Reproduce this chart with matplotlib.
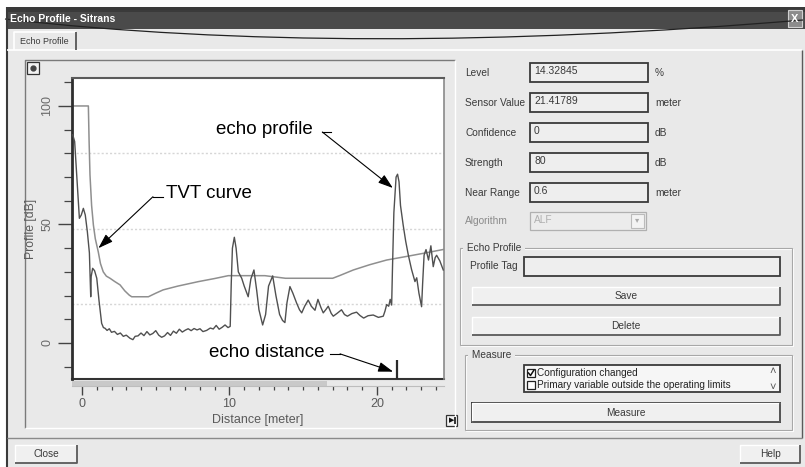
import numpy as np
import matplotlib
matplotlib.use('Agg')
import matplotlib.pyplot as plt
from matplotlib.patches import Rectangle, PathPatch
from matplotlib.path import Path

plt.rcParams['font.family'] = ['Liberation Sans', 'DejaVu Sans']

W, H = 805, 467
BG = '#e9e9e9'

# echo profile, distance [m] / level [dB]
echo_dist = [-0.63, -0.5, -0.35, -0.18, -0.05, 0.09, 0.22, 0.36, 0.5, 0.59, 0.62, 0.72, 0.85,
             1.0, 1.15, 1.33, 1.45, 1.56, 1.7, 1.85, 2.0, 2.2, 2.4, 2.6, 2.8, 3.0, 3.25, 3.45,
             3.6, 3.8, 4.0, 4.2, 4.4, 4.6, 4.8, 5.0, 5.2, 5.4, 5.6, 5.8, 6.0, 6.2, 6.4, 6.6,
             6.8, 7.0, 7.2, 7.4, 7.6, 7.8, 8.0, 8.2, 8.45, 8.7, 8.9, 9.1, 9.3, 9.5, 9.7, 9.9,
             10.05, 10.12, 10.2, 10.33, 10.45, 10.6, 10.83, 11.0, 11.27, 11.45, 11.66, 11.85,
             12.0, 12.25, 12.45, 12.65, 12.93, 13.15, 13.4, 13.6, 13.76, 13.9, 14.1, 14.3,
             14.55, 14.75, 14.9, 15.1, 15.34, 15.55, 15.8, 16.0, 16.2, 16.36, 16.55, 16.7,
             16.9, 17.04, 17.3, 17.6, 17.8, 18.0, 18.3, 18.62, 18.85, 19.1, 19.4, 19.75, 20.1,
             20.43, 20.55, 20.66, 20.8, 20.9, 21.0, 21.05, 21.15, 21.3, 21.4, 21.5, 21.6,
             21.78, 21.95, 22.13, 22.35, 22.58, 22.7, 22.85, 23.03, 23.1, 23.2, 23.33, 23.5,
             23.66, 23.82, 23.95, 24.05, 24.27, 24.5]
echo_db = [87.8, 85, 70, 52.6, 54, 56.8, 54, 47, 38, 19.5, 28, 31.5, 30.5,
           27.3, 18, 8.3, 6.5, 6.2, 5.3, 6.0, 4.5, 4.9, 3.6, 4.2, 2.8, 3.3, 2.0, 1.4,
           2.8, 3.0, 4.2, 3.1, 4.8, 3.4, 4.0, 5.2, 3.3, 2.4, 3.0, 4.4, 3.2, 5.0, 4.1, 5.8,
           4.6, 5.4, 6.0, 5.2, 6.1, 5.5, 6.0, 4.8, 5.3, 6.3, 5.9, 7.4, 5.8, 6.6, 7.6, 6.5,
           7.0, 25, 40, 44.6, 40, 30, 27.3, 24, 19.5, 27, 30.8, 22,
           14, 7.6, 12, 24, 28.3, 20, 12, 9.5, 8.6, 17, 23.8, 21,
           16.9, 14.0, 12.7, 15.5, 18.1, 15.5, 13.8, 18.4, 15, 12.7, 14.2, 15.5,
           12.5, 11.3, 12.5, 14.0, 12.0, 11.3, 12.4, 13.0, 11.6, 10.5, 11.5, 11.8, 10.8,
           11.3, 13.5, 16.2, 15.5, 18.4, 16, 30, 55, 70, 71.2, 68, 58,
           49.8, 43, 37.1, 31, 25.9, 27.5, 21, 15.3, 25, 37.1, 39.4, 35,
           41, 32.2, 36, 37, 34.6, 30.8]

# TVT curve
tvt_dist = [-0.68, 0.43, 0.48, 0.54, 0.65, 0.77, 0.9, 1.1, 1.25, 1.44, 1.65, 1.9, 2.2, 2.58,
            2.9, 3.2, 3.37, 4.5, 5.0, 5.5, 6.5, 7.9, 9.0, 9.92, 12.4, 13.8, 17.0, 17.5, 18.4,
            19.5, 20.66, 22.0, 23.3, 24.55]
tvt_db = [100, 100, 85, 70.9, 58, 49.8, 44, 38.5, 33.5, 30, 28.2, 27.3, 26, 24.5,
          22, 20.2, 19.5, 19.5, 21, 22.4, 24, 25.9, 27.2, 28.4, 28.4, 27.3, 27.3, 28.5, 30.8,
          33, 35, 36.5, 38, 39.5]

grid_db = [80, 48, 16.5]
echo_distance = 21.33
x_major = [0, 10, 20]
y_major = [0, 50, 100]

fields = ['Level', 'Sensor Value', 'Confidence', 'Strength', 'Near Range']
field_values = ['14.32845', '21.41789', '0', '80', '0.6']
field_units = ['%', 'meter', 'dB', 'dB', 'meter']
measure_items = ['Configuration changed', 'Primary variable outside the operating limits']
measure_checked = [True, False]

fig = plt.figure(figsize=(W / 100, H / 100), dpi=100, facecolor='white')
ui = fig.add_axes([0, 0, 1, 1])
ui.set_xlim(0, W)
ui.set_ylim(H, 0)
ui.axis('off')


def rect(x, y, w, h, **kw):
    ui.add_patch(Rectangle((x, y), w, h, **kw))


def line(xs, ys, **kw):
    ui.plot(xs, ys, solid_capstyle='butt', **kw)


def label(x, y, s, **kw):
    kw.setdefault('fontsize', 7.3)
    kw.setdefault('color', '#3a3a3a')
    kw.setdefault('va', 'center')
    ui.text(x, y, s, **kw)


def sunken(x, y, w, h, face='#eeeeee', edge='#3a3a3a'):
    rect(x, y, w, h, facecolor=face, edgecolor=edge, lw=1.3)


def button(x, y, w, h, text, default=False):
    rect(x, y, w, h, facecolor='#f0f0f0', edgecolor='#2e2e2e' if default else 'none',
         lw=1.4 if default else 0)
    line([x, x, x + w], [y + h, y, y], color='white', lw=1)
    line([x, x + w, x + w], [y + h, y + h, y], color='#5a5a5a', lw=1.3)
    label(x + w / 2, y + h / 2, text, ha='center')


def group(x, y, w, h, title):
    rect(x + 1, y + 1, w, h, fill=False, edgecolor='white', lw=0.8)
    rect(x, y, w, h, fill=False, edgecolor='#a8a8a8', lw=0.8)
    label(x + 4, y, ' ' + title + ' ', bbox=dict(fc=BG, ec='none', pad=0.5))


# window + title bar
rect(7, 7, W - 7, H - 7, facecolor=BG, edgecolor='none')
rect(7, 7, W - 7, 22, facecolor='#4a4a4a', edgecolor='none')
rect(7, 7, W - 7, 5, facecolor='#3a3a3a', edgecolor='none')
ui.text(10, 18.5, 'Echo Profile - Sitrans', color='white', fontsize=7.5,
        fontweight='bold', va='center')
rect(788, 10, 14, 17, facecolor='#8c8c8c', edgecolor='#d0d0d0', lw=0.8)
ui.text(795, 18.5, 'X', color='white', fontsize=8, ha='center', va='center', fontweight='bold')
fold = Path([(5, 19), (350, 58), (803, 20)], [Path.MOVETO, Path.CURVE3, Path.CURVE3])
ui.add_patch(PathPatch(fold, fill=False, edgecolor='#222222', lw=0.9))
line([7, 7], [7, H], color='#3a3a3a', lw=1.5)

# tab
line([7, 802], [50, 50], color='white', lw=1.2)
line([802, 802], [50, 438], color='#5a5a5a', lw=1)
line([7, 802], [438, 438], color='#8a8a8a', lw=1)
line([14, 14, 76], [50, 32, 32], color='white', lw=1.2)
line([76, 76], [32, 50], color='#4a4a4a', lw=1.2)
rect(14.5, 32.5, 61, 17.5, facecolor=BG, edgecolor='none')
label(20, 41, 'Echo Profile', fontsize=6.5)

# chart group
line([25, 25, 455], [428, 60, 60], color='#7a7a7a', lw=1)
line([25, 455, 455], [428, 428, 60], color='white', lw=1)
rect(27, 62, 12, 12, facecolor='#f2f2f2', edgecolor='#333333', lw=0.9)
ui.plot(33, 68, 'o', ms=3.5, color='#444444')
rect(72, 380.5, 255, 5, facecolor='#c9c9c9', edgecolor='none')
rect(446, 415, 11, 11, facecolor='#f2f2f2', edgecolor='#333333', lw=0.9)
ui.text(451.5, 420.5, '\u25b6', fontsize=5, ha='center', va='center', color='#111111')
line([454.5, 454.5], [417, 424], color='#111111', lw=1.2)

# right panel: readouts
for i, (name, val, unit) in enumerate(zip(fields, field_values, field_units)):
    top = 63 + 30 * i
    label(465, top + 9.5, name)
    sunken(530, top, 118, 19)
    label(534, top + 8, val, fontsize=7.5)
    label(655, top + 9.5, unit)

label(465, 221, 'Algorithm', color='#8a8a8a')
rect(530, 212, 116, 18, facecolor='#ececec', edgecolor='#b0b0b0', lw=0.9)
label(534, 220, 'ALF', color='#b0b0b0')
rect(631, 214, 13, 14, facecolor='#f3f3f3', edgecolor='#bbbbbb', lw=0.8)
ui.text(637.5, 221, '\u25be', fontsize=6, ha='center', va='center', color='#aaaaaa')

group(460, 248, 332, 97, 'Echo Profile')
label(470, 266, 'Profile Tag')
sunken(524, 257, 256, 19)
button(472, 287, 308, 18, 'Save')
button(472, 317, 308, 18, 'Delete')

group(465, 355, 327, 75, 'Measure')
sunken(524, 365, 256, 27, face='#f6f6f6')
for i, (item, chk) in enumerate(zip(measure_items, measure_checked)):
    yc = 373 + 12 * i
    rect(527, yc - 4, 8, 8, facecolor='white', edgecolor='#222222', lw=0.9)
    if chk:
        ui.plot([528.5, 530.5, 534], [yc, yc + 2.5, yc - 3], color='#111111', lw=1.1)
    label(537, yc, item, color='#222222', fontsize=7.2)
label(773, 371, '\u02c4', ha='center', color='#555555', fontsize=8)
label(773, 387, '\u02c5', ha='center', color='#555555', fontsize=8)
button(472, 403, 308, 19, 'Measure', default=True)

button(15, 445, 62, 18, 'Close')
button(740, 445, 60, 18, 'Help')

# echo profile chart
ax = fig.add_axes([72 / W, 1 - 379 / H, 372 / W, 301 / H])
ax.set_facecolor('white')
for g in grid_db:
    ax.axhline(g, color='#d6d6d6', lw=1, ls=(0, (1.5, 1.5)), zorder=1)
ax.plot(tvt_dist, tvt_db, color='#8f8f8f', lw=1.1, zorder=2)
ax.plot(echo_dist, echo_db, color='#505050', lw=1.0, zorder=3)
ax.vlines(echo_distance, -15.2, -7.2, color='#2a2a2a', lw=1.6, zorder=3)
ax.set_xlim(-0.68, 24.55)
ax.set_ylim(-15.2, 111.8)

ax.spines['top'].set_color('#5a5a5a')
ax.spines['top'].set_linewidth(1.5)
ax.spines['right'].set_color('#8a8a8a')
ax.spines['right'].set_linewidth(1.2)
ax.spines['left'].set_color('#2e2e2e')
ax.spines['left'].set_linewidth(2)
ax.spines['bottom'].set_position(('outward', 5))
ax.spines['bottom'].set_color('#bdbdbd')
ax.spines['bottom'].set_linewidth(0.8)
ax.plot([0, 1], [0, 0], transform=ax.transAxes, color='#333333', lw=1.5, clip_on=False)

ax.set_xticks(x_major)
ax.set_xticks(np.arange(0, 25), minor=True)
ax.set_yticks(y_major)
ax.set_yticks(np.arange(-10, 111, 10), minor=True)
ax.tick_params(axis='x', which='major', length=6.5, width=1, color='#444444',
               labelsize=9, labelcolor='#5a5a5a', pad=2)
ax.tick_params(axis='x', which='minor', length=3, width=0.9, color='#444444')
ax.tick_params(axis='y', which='major', length=10, width=1, color='#444444',
               labelsize=9, labelcolor='#6a6a6a', pad=3.5, labelrotation=90)
ax.tick_params(axis='y', which='minor', length=5.8, width=0.9, color='#444444')
for t in ax.get_yticklabels():
    t.set_va('center')

ax.set_xlabel('Distance [meter]', fontsize=9, color='#5a5a5a')
ax.xaxis.set_label_coords(0.5, -0.136)
ax.xaxis.label.set_va('center')
ax.set_ylabel('Profile [dB]', fontsize=8.8, color='#5a5a5a')
ax.yaxis.set_label_coords(-0.11, 0.5)
ax.yaxis.label.set_va('center')

# callouts
arrow = dict(arrowstyle='-|>,head_length=0.9,head_width=0.3', color='black', lw=0.8,
             shrinkA=0, shrinkB=0)
callouts = [('echo profile', (12.34, 89.9), (16.9, 89), (16.3, 89), (21.08, 65.4)),
            ('TVT curve', (8.61, 62.9), (5.49, 61.7), (4.81, 61.7), (1.11, 40.0)),
            ('echo distance', (12.5, -4.2), (16.8, -4.6), (17.5, -4.6), (21.1, -12.1))]
for text, pos, h0, h1, tip in callouts:
    ax.text(*pos, text, fontsize=13.5, ha='center', va='center', color='black',
            family=['Liberation Sans', 'DejaVu Sans'], zorder=5)
    ax.plot([h0[0], h1[0]], [h0[1], h1[1]], color='black', lw=0.8, zorder=5)
    ax.annotate('', xy=tip, xytext=h1, arrowprops=arrow, zorder=5)

fig.savefig('out.png', dpi=100, facecolor='white')
